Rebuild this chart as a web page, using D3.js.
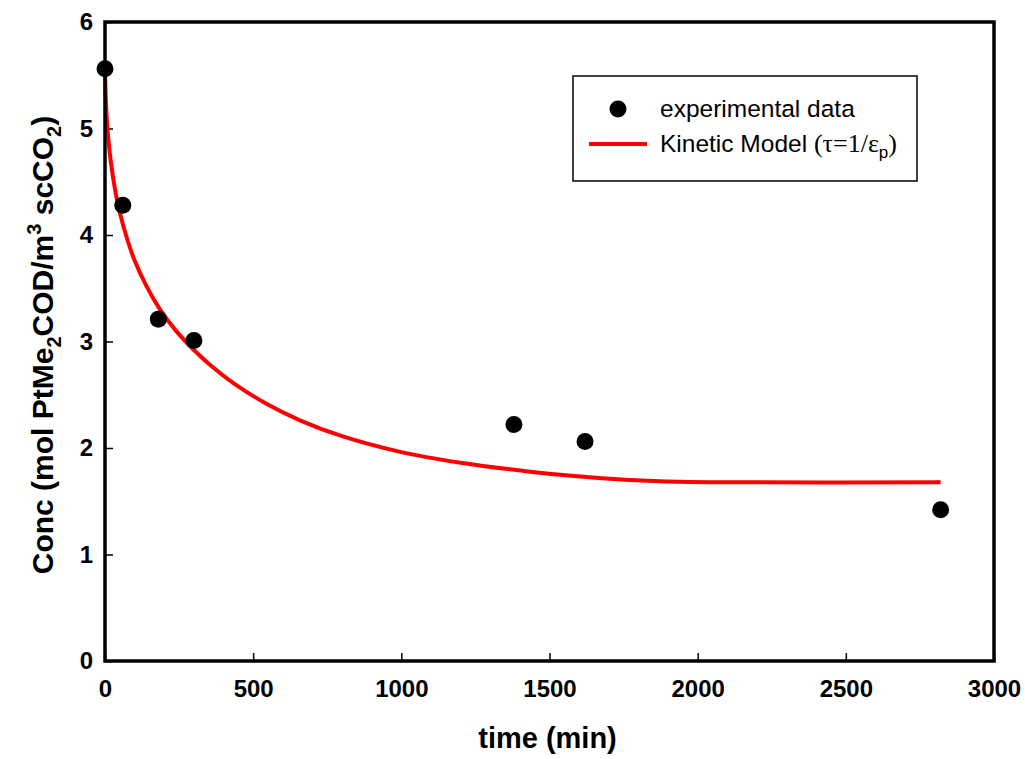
<!DOCTYPE html>
<html>
<head>
<meta charset="utf-8">
<script src="https://cdn.jsdelivr.net/npm/d3@7"></script>
<style>
  html, body { margin: 0; padding: 0; background: #fff; }
  svg { display: block; }
</style>
</head>
<body>
<svg id="chart" width="1025" height="759"></svg>
<script>
// Measured concentrations
const timeMin = [0, 60, 180, 300, 1380, 1620, 2820];
const concExp = [5.56, 4.28, 3.21, 3.01, 2.22, 2.06, 1.42];

// Kinetic model curve (tau = 1/eps_p)
const modelTime = [0, 2, 5, 10, 20, 35, 50, 75, 100, 140, 186, 240, 300, 360, 432, 540, 658, 800, 996, 1200, 1434, 1603, 1772, 1940, 2109, 2820];
const modelConc = [5.56, 5.33, 5.14, 4.94, 4.68, 4.41, 4.21, 3.96, 3.76, 3.52, 3.30, 3.10, 2.92, 2.767, 2.612, 2.423, 2.26, 2.111, 1.964, 1.862, 1.778, 1.732, 1.70, 1.683, 1.678, 1.678];

const xTicks = [0, 500, 1000, 1500, 2000, 2500, 3000];
const yTicks = [0, 1, 2, 3, 4, 5, 6];

const svg = d3.select("#chart");
const plotLeft = 105, plotRight = 994, plotTop = 22, plotBottom = 661;

const x = d3.scaleLinear().domain([0, 3000]).range([plotLeft, plotRight]);
const y = d3.scaleLinear().domain([0, 6]).range([plotBottom, plotTop]);

const sans = "'Liberation Sans', Arial, Helvetica, sans-serif";
const serif = "'Liberation Serif', 'Times New Roman', serif";

// Axes with inward ticks
const xAxis = d3.axisBottom(x).tickValues(xTicks).tickFormat(d3.format("d"))
  .tickSizeInner(-8).tickSizeOuter(0).tickPadding(19);
const yAxis = d3.axisLeft(y).tickValues(yTicks).tickFormat(d3.format("d"))
  .tickSizeInner(-8).tickSizeOuter(0).tickPadding(12);

const gx = svg.append("g").attr("transform", `translate(0,${plotBottom})`).call(xAxis);
const gy = svg.append("g").attr("transform", `translate(${plotLeft},0)`).call(yAxis);
[gx, gy].forEach(g => {
  g.select(".domain").remove();
  g.selectAll(".tick line").attr("stroke", "#000").attr("stroke-width", 1.5);
  g.selectAll(".tick text")
    .attr("fill", "#000")
    .style("font-family", sans)
    .style("font-size", "24px")
    .style("font-weight", "bold");
});

// Model curve
const line = d3.line()
  .x((d, i) => x(modelTime[i]))
  .y(d => y(d))
  .curve(d3.curveCatmullRom.alpha(0.5));

svg.append("path")
  .datum(modelConc)
  .attr("d", line)
  .attr("fill", "none")
  .attr("stroke", "#ff0000")
  .attr("stroke-width", 4);

// Experimental points
svg.append("g").selectAll("circle")
  .data(concExp)
  .join("circle")
  .attr("cx", (d, i) => x(timeMin[i]))
  .attr("cy", d => y(d))
  .attr("r", 8.5)
  .attr("fill", "#000");

// Plot frame
svg.append("rect")
  .attr("x", plotLeft).attr("y", plotTop)
  .attr("width", plotRight - plotLeft).attr("height", plotBottom - plotTop)
  .attr("fill", "none")
  .attr("stroke", "#000")
  .attr("stroke-width", 3.5);

// Axis titles
svg.append("text")
  .attr("x", 547.5).attr("y", 748)
  .attr("text-anchor", "middle")
  .style("font-family", sans).style("font-size", "29px").style("font-weight", "bold")
  .text("time (min)");

const yt = svg.append("text")
  .attr("transform", "translate(53,345) rotate(-90)")
  .attr("text-anchor", "middle")
  .style("font-family", sans).style("font-size", "30px").style("font-weight", "bold");
yt.append("tspan").text("Conc (mol PtMe");
yt.append("tspan").attr("dy", 8).style("font-size", "20px").text("2");
yt.append("tspan").attr("dy", -8).text("COD/m");
yt.append("tspan").attr("dy", -12).style("font-size", "20px").text("3");
yt.append("tspan").attr("dy", 12).text(" scCO");
yt.append("tspan").attr("dy", 8).style("font-size", "20px").text("2");
yt.append("tspan").attr("dy", -8).text(")");

// Legend
const lg = svg.append("g");
lg.append("rect")
  .attr("x", 573).attr("y", 76).attr("width", 344).attr("height", 105)
  .attr("fill", "#fff").attr("stroke", "#000").attr("stroke-width", 1.5);
lg.append("circle").attr("cx", 618).attr("cy", 109).attr("r", 8.5).attr("fill", "#000");
lg.append("text").attr("x", 660).attr("y", 117)
  .style("font-family", sans).style("font-size", "24.5px")
  .text("experimental data");
lg.append("line").attr("x1", 589).attr("x2", 647).attr("y1", 144).attr("y2", 144)
  .attr("stroke", "#ff0000").attr("stroke-width", 4);
const lt = lg.append("text").attr("x", 660).attr("y", 152)
  .style("font-family", sans).style("font-size", "24.5px");
lt.append("tspan").text("Kinetic Model ");
lt.append("tspan").style("font-family", serif).style("font-size", "26px").text("(τ=1/ε");
lt.append("tspan").attr("dy", 6).style("font-size", "17px").text("p");
lt.append("tspan").attr("dy", -6).style("font-family", serif).style("font-size", "26px").text(")");
</script>
</body>
</html>
